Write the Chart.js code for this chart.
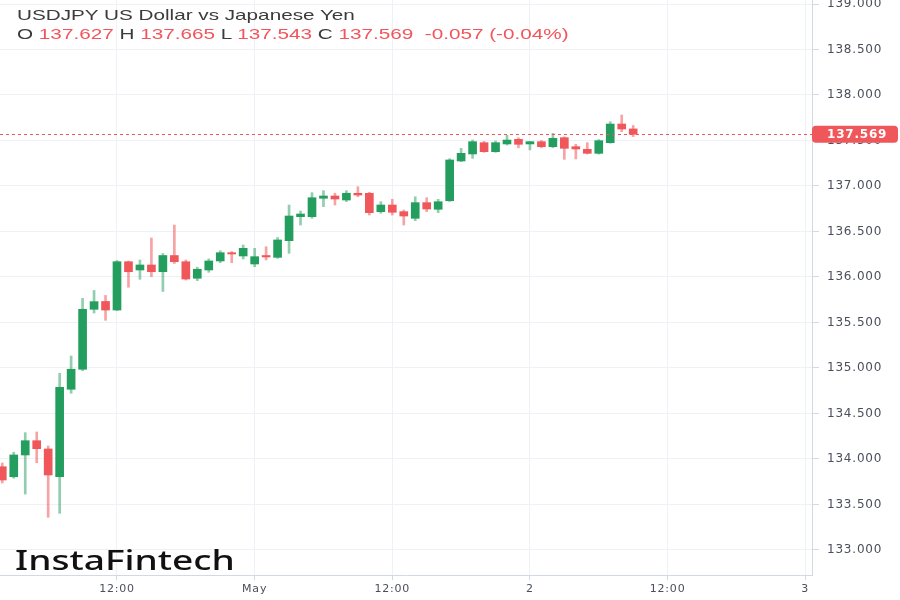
<!DOCTYPE html>
<html>
<head>
<meta charset="utf-8">
<title>USDJPY US Dollar vs Japanese Yen</title>
<script src="https://cdn.jsdelivr.net/npm/chart.js@4.4.0/dist/chart.umd.min.js"></script>
<style>
  html, body { margin: 0; padding: 0; background: #fff; }
  #wrap { position: relative; width: 900px; height: 600px; overflow: hidden; }
  #chart { position: absolute; left: 0; top: 0; }
  .legend { position: absolute; left: 17px; transform-origin: 0 0; white-space: pre;
            font-family: "Liberation Sans", Arial, sans-serif; font-size: 15px; line-height: 17px; color: #3b3b3b; }
  #title { top: 6px; }
  #ohlc { top: 25px; }
  .red { color: #f2545b; }
  #logo { position: absolute; left: 15px; top: 546px; transform-origin: 0 0; white-space: pre;
          font-family: "Noto Sans", sans-serif; font-weight: 500; font-size: 27px; line-height: 27px; color: #111; }
</style>
</head>
<body>
<div id="wrap">
  <canvas id="chart" width="900" height="600"></canvas>
  <div id="title" class="legend">USDJPY US Dollar vs Japanese Yen</div>
  <div id="ohlc" class="legend"></div>
  <div id="logo">InstaFintech</div>
</div>
<script>
// hourly bars, oldest first
const times = [
  '04-28 02:00','04-28 03:00','04-28 04:00','04-28 05:00','04-28 06:00','04-28 07:00','04-28 08:00','04-28 09:00',
  '04-28 10:00','04-28 11:00','04-28 12:00','04-28 13:00','04-28 14:00','04-28 15:00','04-28 16:00','04-28 17:00',
  '04-28 18:00','04-28 19:00','04-28 20:00','04-28 21:00','04-28 22:00','04-28 23:00',
  '05-01 00:00','05-01 01:00','05-01 02:00','05-01 03:00','05-01 04:00','05-01 05:00','05-01 06:00','05-01 07:00',
  '05-01 08:00','05-01 09:00','05-01 10:00','05-01 11:00','05-01 12:00','05-01 13:00','05-01 14:00','05-01 15:00',
  '05-01 16:00','05-01 17:00','05-01 18:00','05-01 19:00','05-01 20:00','05-01 21:00','05-01 22:00','05-01 23:00',
  '05-02 00:00','05-02 01:00','05-02 02:00','05-02 03:00','05-02 04:00','05-02 05:00','05-02 06:00','05-02 07:00',
  '05-02 08:00','05-02 09:00'
];

const open = [
  133.915, 133.805, 134.044, 134.201, 134.110, 133.805, 134.766, 134.986, 135.645, 135.731,
  135.637, 136.168, 136.077, 136.132, 136.058, 136.236, 136.168, 135.986, 136.077, 136.176,
  136.267, 136.231, 136.143, 136.236, 136.216, 136.399, 136.663, 136.663, 136.865, 136.890,
  136.846, 136.920, 136.920, 136.718, 136.791, 136.718, 136.645, 136.817, 136.744, 136.838,
  137.275, 137.352, 137.476, 137.377, 137.462, 137.513, 137.462, 137.487, 137.432, 137.531,
  137.432, 137.403, 137.359, 137.476, 137.681, 137.627
];
const high = [
  133.956, 134.074, 134.289, 134.297, 134.143, 134.942, 135.132, 135.766, 135.852, 135.797,
  136.181, 136.175, 136.187, 136.429, 136.258, 136.571, 136.187, 136.107, 136.198, 136.289,
  136.280, 136.352, 136.315, 136.333, 136.434, 136.791, 136.725, 136.927, 136.949, 136.920,
  136.949, 136.992, 136.930, 136.828, 136.854, 136.736, 136.882, 136.871, 136.854, 137.300,
  137.414, 137.505, 137.490, 137.495, 137.557, 137.530, 137.490, 137.500, 137.579, 137.540,
  137.458, 137.476, 137.510, 137.707, 137.780, 137.665
];
const low = [
  133.736, 133.788, 133.615, 133.959, 133.359, 133.403, 134.722, 134.970, 135.604, 135.524,
  135.630, 135.887, 135.975, 136.003, 135.841, 136.148, 135.967, 135.960, 136.052, 136.157,
  136.157, 136.198, 136.113, 136.187, 136.205, 136.260, 136.571, 136.645, 136.773, 136.791,
  136.828, 136.882, 136.681, 136.700, 136.681, 136.571, 136.619, 136.718, 136.707, 136.830,
  137.267, 137.304, 137.370, 137.370, 137.450, 137.420, 137.396, 137.420, 137.420, 137.293,
  137.297, 137.352, 137.350, 137.470, 137.597, 137.543
];
const close = [
  133.769, 134.044, 134.201, 134.113, 133.824, 134.788, 134.986, 135.645, 135.729, 135.637,
  136.168, 136.058, 136.132, 136.058, 136.236, 136.168, 135.978, 136.085, 136.176, 136.267,
  136.253, 136.315, 136.223, 136.220, 136.407, 136.670, 136.692, 136.871, 136.890, 136.857,
  136.920, 136.901, 136.707, 136.791, 136.711, 136.670, 136.817, 136.747, 136.827, 137.286,
  137.359, 137.487, 137.377, 137.476, 137.505, 137.458, 137.487, 137.432, 137.524, 137.414,
  137.407, 137.359, 137.498, 137.681, 137.626, 137.569
];

// x axis labels, placed at bar index (12:00 on 04-28 is bar 10)
const xTickIndex = [10, 22, 34, 46, 58, 70];
const xTickLabels = ['12:00', 'May', '12:00', '2', '12:00', '3'];
const yTicks = [133, 133.5, 134, 134.5, 135, 135.5, 136, 136.5, 137, 137.5, 138, 138.5, 139];

const GREEN = '#239e5e';
const RED = '#f0575b';
const GREEN_WICK = 'rgba(35,158,94,0.5)';
const RED_WICK = 'rgba(240,87,91,0.55)';
const GRID = '#eef1f5';
const AXIS = '#d3d9e3';
const TEXT = '#4a4f5a';
const FONT = '"DejaVu Sans", sans-serif';

const isUp = i => close[i] >= open[i];

// header text from the last bar
const n = close.length - 1;
const chg = close[n] - close[n - 1];
document.getElementById('ohlc').innerHTML =
  'O <span class="red">' + open[n].toFixed(3) + '</span> H <span class="red">' + high[n].toFixed(3) +
  '</span> L <span class="red">' + low[n].toFixed(3) + '</span> C <span class="red">' + close[n].toFixed(3) +
  '  ' + chg.toFixed(3) + ' (' + (chg / close[n - 1] * 100).toFixed(2) + '%)</span>';

// the reference is stretched sideways, so stretch the html text to the same widths
const title = document.getElementById('title');
const sx = 338 / title.offsetWidth;
title.style.transform = 'scaleX(' + sx + ')';
document.getElementById('ohlc').style.transform = 'scaleX(' + sx + ')';
const logo = document.getElementById('logo');
logo.style.transform = 'scaleX(' + (220 / logo.offsetWidth) + ')';

const lastPrice = {
  id: 'lastPrice',
  beforeDraw(chart) {
    if ('letterSpacing' in chart.ctx) chart.ctx.letterSpacing = '0.8px';
  },
  afterDatasetsDraw(chart) {
    const { ctx, chartArea, scales } = chart;
    const py = Math.round(scales.y.getPixelForValue(close[n])) + 0.5;
    ctx.save();
    ctx.strokeStyle = RED;
    ctx.lineWidth = 1;
    ctx.setLineDash([3, 3]);
    ctx.beginPath();
    ctx.moveTo(chartArea.left, py);
    ctx.lineTo(chartArea.right, py);
    ctx.stroke();
    ctx.restore();
  },
  afterDraw(chart) {
    const { ctx, chartArea, scales } = chart;
    const py = scales.y.getPixelForValue(close[n]);
    ctx.save();
    ctx.fillStyle = RED;
    ctx.beginPath();
    ctx.roundRect(chartArea.right, py - 8.5, 86, 17, 4);
    ctx.fill();
    ctx.fillStyle = '#fff';
    ctx.font = 'bold 12px ' + FONT;
    ctx.textBaseline = 'middle';
    ctx.textAlign = 'left';
    ctx.fillText(close[n].toFixed(3), chartArea.right + 15, py + 0.5);
    ctx.restore();
  }
};

new Chart(document.getElementById('chart'), {
  type: 'bar',
  data: {
    labels: times,
    datasets: [
      {
        label: 'wick',
        data: low.map((l, i) => ({ x: i, y: [l, high[i]] })),
        backgroundColor: c => isUp(c.dataIndex) ? GREEN_WICK : RED_WICK,
        barThickness: 2,
        grouped: false,
        order: 2
      },
      {
        label: 'body',
        data: open.map((o, i) => ({ x: i, y: [o, close[i]] })),
        backgroundColor: c => isUp(c.dataIndex) ? GREEN : RED,
        barThickness: 8,
        grouped: false,
        order: 1
      }
    ]
  },
  options: {
    responsive: false,
    devicePixelRatio: 1,
    animation: false,
    events: [],
    layout: { padding: 0 },
    plugins: { legend: { display: false }, tooltip: { enabled: false } },
    scales: {
      x: {
        type: 'linear',
        position: 'bottom',
        offset: false,
        min: -0.2,
        max: 70.59,
        grid: { offset: false, color: GRID, tickColor: AXIS, tickLength: 5 },
        border: { color: AXIS },
        afterBuildTicks: s => { s.ticks = xTickIndex.map(v => ({ value: v })); },
        afterFit: s => { s.height = 25; s.paddingLeft = 0; s.paddingRight = 0; },
        ticks: {
          autoSkip: false,
          maxRotation: 0,
          padding: 3,
          color: TEXT,
          font: { family: FONT, size: 11 },
          callback: v => xTickLabels[xTickIndex.indexOf(v)]
        }
      },
      y: {
        type: 'linear',
        position: 'right',
        min: 132.725,
        max: 139.044,
        grid: { color: GRID, tickColor: AXIS, tickLength: 7 },
        border: { color: AXIS },
        afterBuildTicks: s => { s.ticks = yTicks.map(v => ({ value: v })); },
        afterFit: s => { s.width = 88; s.paddingTop = 0; s.paddingBottom = 0; },
        ticks: {
          padding: 8,
          color: TEXT,
          font: { family: FONT, size: 12 },
          callback: v => v.toFixed(3)
        }
      }
    }
  },
  plugins: [lastPrice]
});
</script>
</body>
</html>
